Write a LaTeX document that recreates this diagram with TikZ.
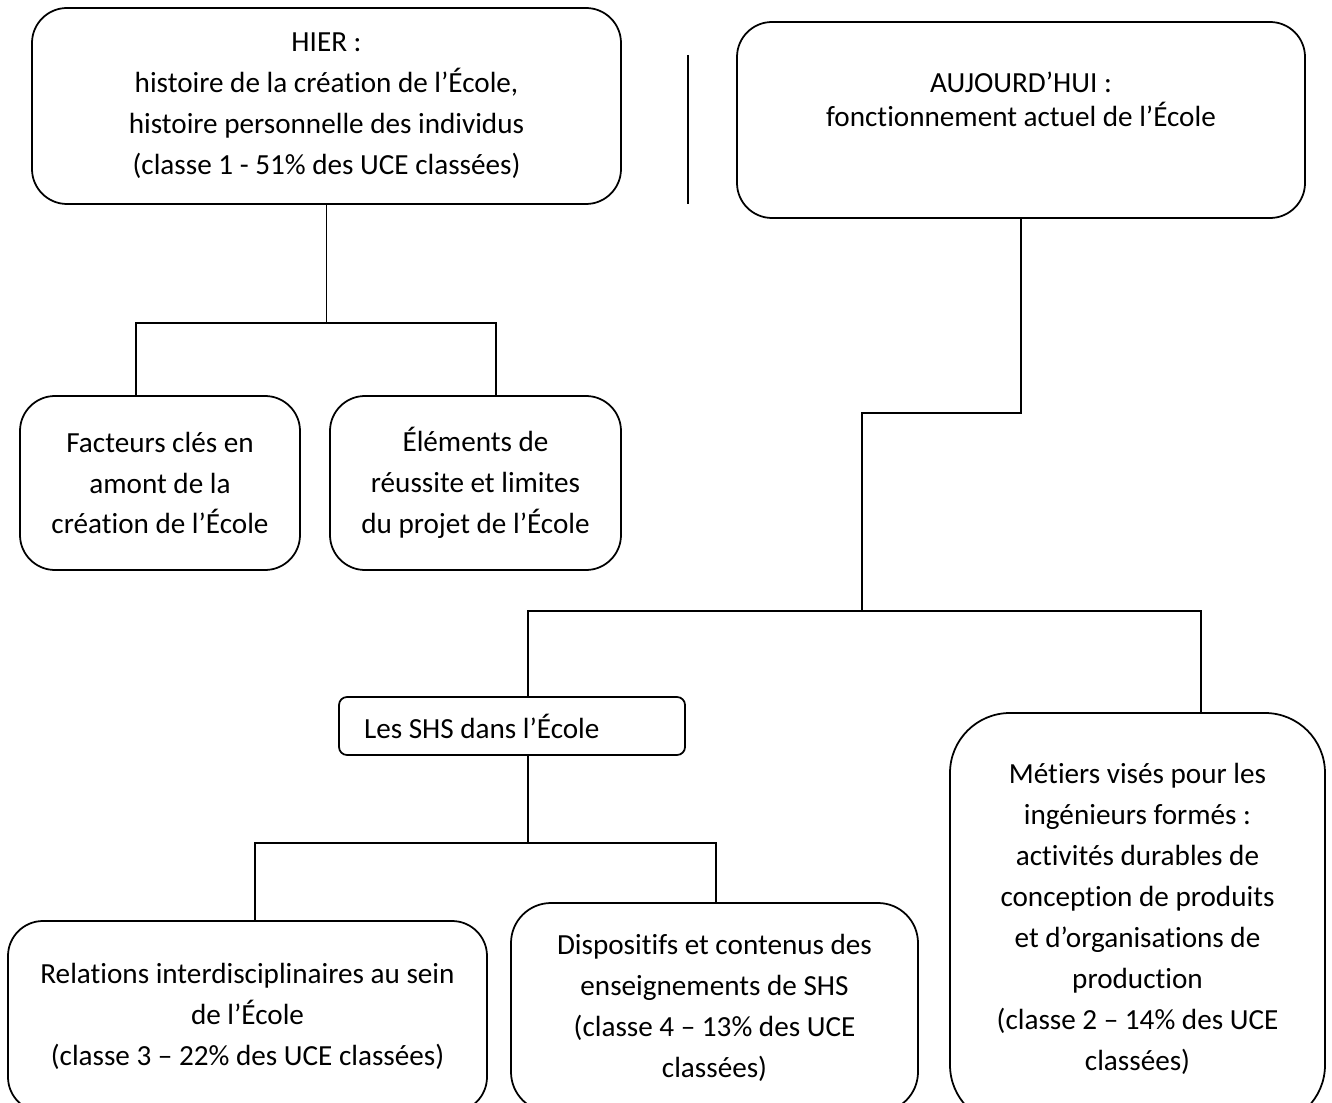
\documentclass[tikz,border=0pt]{standalone}
\usepackage{fontspec}
\setmainfont{Carlito}[Ligatures=NoCommon]
\usetikzlibrary{positioning}

\begin{document}
\begin{tikzpicture}[x=1cm,y=1cm,font=\fontsize{16.6}{23.3}\selectfont,
box/.style={draw,line width=1pt,rounded corners=.7cm,align=center,inner sep=0pt},
link/.style={line width=1pt}]
\useasboundingbox (0,0) rectangle (26.64,22.04);
\clip (0,0) rectangle (26.64,22.04);

\node[box,minimum width=11.78cm,minimum height=3.92cm] (hier)at(6.53,19.92){HIER :\\histoire de la création de l’École,\\histoire personnelle des individus\\(classe 1 - 51\% des UCE classées)};
\node[box,minimum width=11.36cm,minimum height=3.92cm] (auj)at(20.42,19.64){AUJOURD’HUI :\\[-4pt]fonctionnement actuel de l’École\\ \mbox{}};
\draw[link](13.76,20.94)--(13.76,17.96);
\node[box,minimum width=5.6cm,minimum height=3.48cm] (fact)at(3.2,12.38){Facteurs clés en\\amont de la\\création de l’École};
\node[box,minimum width=5.82cm,minimum height=3.48cm] (elem)at(9.51,12.38){Éléments de\\réussite et limites\\du projet de l’École};
\node[box,rounded corners=.16cm,minimum width=6.92cm,minimum height=1.16cm,text width=5.92cm,inner xsep=.5cm,align=flush left] (shs)at(10.24,7.52){Les SHS dans l’École};
\node[box,minimum width=9.58cm,minimum height=3.82cm] (rel)at(4.95,1.71){Relations interdisciplinaires au sein\\de l’École\\(classe 3 – 22\% des UCE classées)};
\node[box,rounded corners=.8cm,minimum width=8.14cm,minimum height=4.18cm] (disp)at(14.29,1.89){Dispositifs et contenus des\\enseignements de SHS\\(classe 4 – 13\% des UCE\\classées)};
\node[box,rounded corners=1.2cm,minimum width=7.5cm,minimum height=8.24cm] (met)at(22.75,3.66){Métiers visés pour les\\ingénieurs formés :\\activités durables de\\conception de produits\\et d’organisations de\\production\\(classe 2 – 14\% des UCE\\classées)};

% branching points
\coordinate (a1)at(2.72,15.58);
\coordinate (a2)at(9.92,15.58);
\coordinate (b1)at(17.24,13.78);
\coordinate (c1)at(10.56,9.82);
\coordinate (c2)at(24.02,9.82);
\coordinate (d1)at(5.10,5.18);
\coordinate (d2)at(14.32,5.18);

\draw[link](hier.south)--(hier.south|-a1);
\draw[link](fact.north-|a1)--(a1)--(a2)--(elem.north-|a2);
\draw[link](auj.south)|-(b1)--(b1|-c1);
\draw[link](shs.north-|c1)--(c1)--(c2)--(met.north-|c2);
\draw[link](shs.south-|c1)--(c1|-d1);
\draw[link](rel.north-|d1)--(d1)--(d2)--(disp.north-|d2);
\end{tikzpicture}
\end{document}
